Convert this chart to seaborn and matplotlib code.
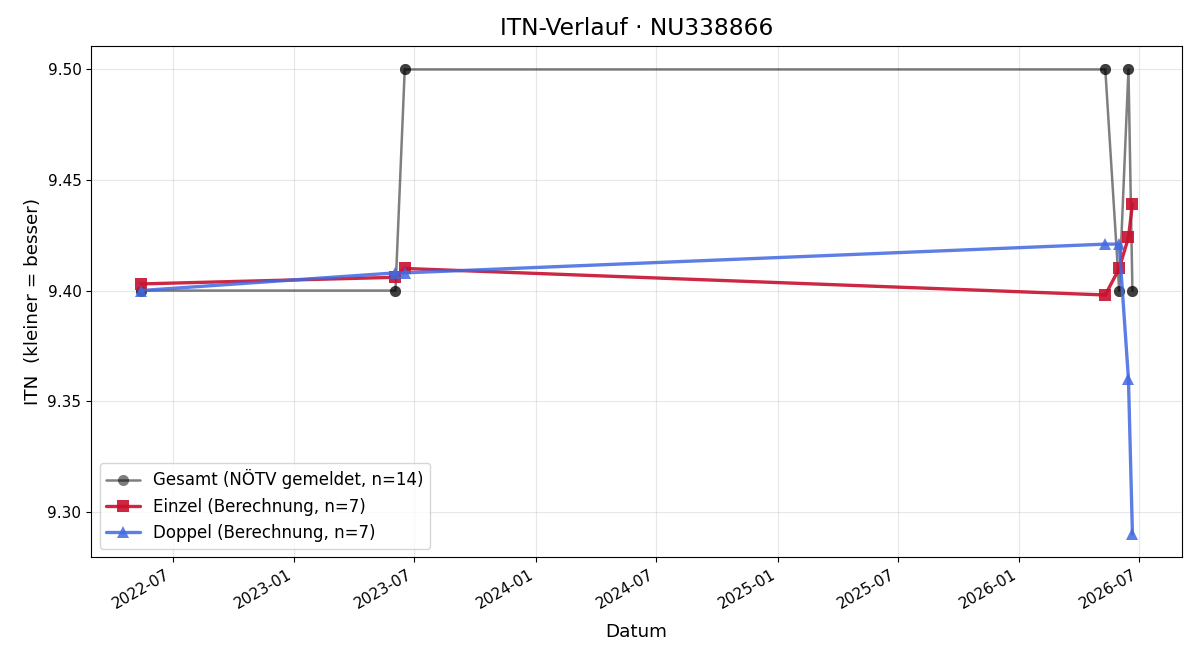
import pandas as pd
import matplotlib
matplotlib.use("Agg")
import matplotlib.pyplot as plt
import matplotlib.dates as mdates
import seaborn as sns

# Daten
DATES = ['2022-05-14', '2023-06-03', '2023-06-17', '2026-05-11',
         '2026-06-01', '2026-06-15', '2026-06-21']
GESAMT = [9.40, 9.40, 9.50, 9.50, 9.40, 9.50, 9.40]
EINZEL = [9.403, 9.406, 9.410, 9.398, 9.410, 9.424, 9.439]
DOPPEL = [9.400, 9.408, 9.408, 9.421, 9.421, 9.360, 9.290]

sns.set_style("ticks", rc={
    'text.color': 'black', 'axes.labelcolor': 'black',
    'xtick.color': 'black', 'ytick.color': 'black',
    'axes.edgecolor': 'black', 'grid.color': '#b0b0b0',
})
plt.rcParams['font.family'] = ['DejaVu Sans']

dates = pd.to_datetime(DATES)
# Gesamt: je Termin zwei Meldungen (n=14)
df_g = pd.DataFrame({'Datum': dates.repeat(2), 'ITN': [v for v in GESAMT for _ in range(2)]})
df_e = pd.DataFrame({'Datum': dates, 'ITN': EINZEL})
df_d = pd.DataFrame({'Datum': dates, 'ITN': DOPPEL})

fig, ax = plt.subplots(figsize=(12, 6.6), dpi=100)
ax.plot(df_g['Datum'], df_g['ITN'], color='black', alpha=0.5, marker='o',
        markersize=8, markeredgewidth=0, linewidth=1.8,
        label='Gesamt (NÖTV gemeldet, n=14)')
sns.lineplot(data=df_e, x='Datum', y='ITN', ax=ax, color='#C8102E', alpha=0.9,
             marker='s', markersize=8, markeredgewidth=0, linewidth=2.4,
             sort=False, label='Einzel (Berechnung, n=7)')
sns.lineplot(data=df_d, x='Datum', y='ITN', ax=ax, color='#4169E1', alpha=0.85,
             marker='^', markersize=8, markeredgewidth=0, linewidth=2.4,
             sort=False, label='Doppel (Berechnung, n=7)')

ax.set_title('ITN-Verlauf · NU338866', fontsize=16.8, pad=8)
ax.set_xlabel('Datum', fontsize=13.2, labelpad=8)
ax.set_ylabel('ITN  (kleiner = besser)', fontsize=13.2)
ax.tick_params(labelsize=11)
ax.xaxis.set_major_locator(mdates.MonthLocator(bymonth=[1, 7]))
ax.xaxis.set_major_formatter(mdates.DateFormatter('%Y-%m'))
ax.grid(True, alpha=0.3)
ax.legend(loc='lower left', fontsize=12)
fig.autofmt_xdate()
fig.subplots_adjust(left=0.076, right=0.985, top=0.93, bottom=0.156)
fig.savefig('out.png')
